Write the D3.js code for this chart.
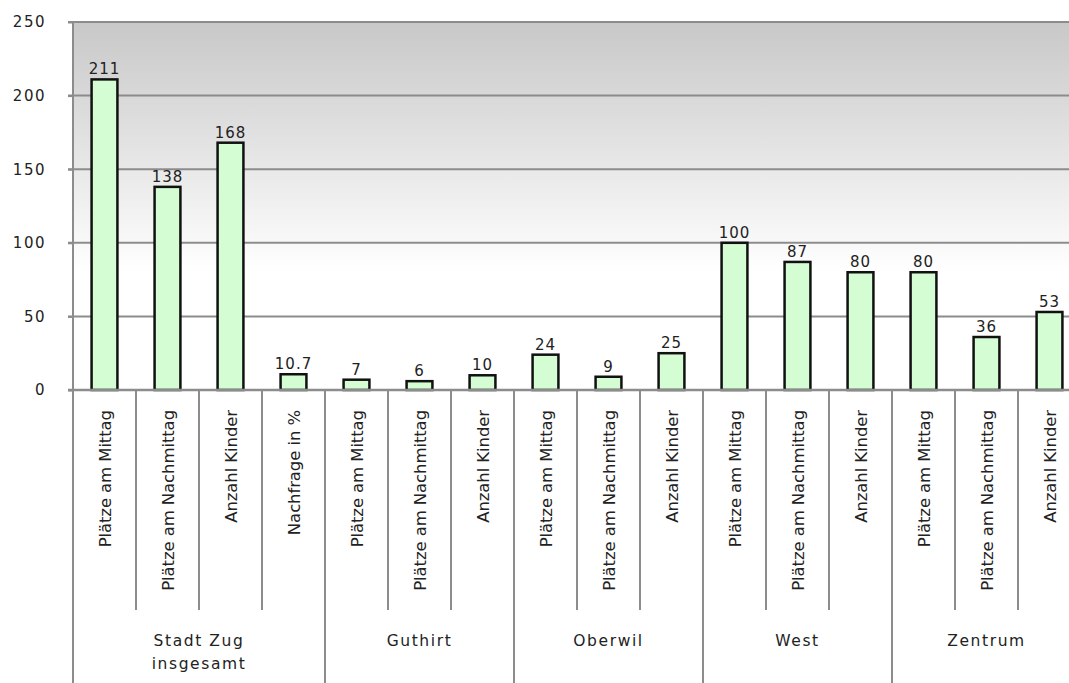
<!DOCTYPE html>
<html>
<head>
<meta charset="utf-8">
<script src="https://cdn.jsdelivr.net/npm/d3@7"></script>
<style>
    body { margin: 0; background: #fff; }
    svg { display: block; font-family: "DejaVu Sans", Verdana, sans-serif; }
</style>
</head>
<body>
<div id="chart"></div>
<script>
// Data
const groups = ['Stadt Zug\ninsgesamt', 'Guthirt', 'Oberwil', 'West', 'Zentrum'];
const groupSizes = [4, 3, 3, 3, 3];
const categories = [
    'Plätze am Mittag', 'Plätze am Nachmittag', 'Anzahl Kinder', 'Nachfrage in %',
    'Plätze am Mittag', 'Plätze am Nachmittag', 'Anzahl Kinder',
    'Plätze am Mittag', 'Plätze am Nachmittag', 'Anzahl Kinder',
    'Plätze am Mittag', 'Plätze am Nachmittag', 'Anzahl Kinder',
    'Plätze am Mittag', 'Plätze am Nachmittag', 'Anzahl Kinder'
];
const values = [211, 138, 168, 10.7, 7, 6, 10, 24, 9, 25, 100, 87, 80, 80, 36, 53];
const yTicks = [0, 50, 100, 150, 200, 250];

const width = 1069, height = 683;
const plotLeft = 73, plotTop = 22, plotBottom = 390;
const step = 63;

const svg = d3.select('#chart').append('svg')
    .attr('width', width)
    .attr('height', height);

const idx = d3.range(values.length);
const x = d3.scaleBand()
    .domain(idx)
    .range([plotLeft, plotLeft + step * values.length])
    .paddingInner(0.59)
    .paddingOuter(0.295);

const y = d3.scaleLinear().domain([0, 250]).range([plotBottom, plotTop]);

// background gradient
const grad = svg.append('defs').append('linearGradient')
    .attr('id', 'bg').attr('x1', 0).attr('y1', 0).attr('x2', 0).attr('y2', 1);
grad.append('stop').attr('offset', '0%').attr('stop-color', '#c8c8c8');
grad.append('stop').attr('offset', '68%').attr('stop-color', '#ffffff');
grad.append('stop').attr('offset', '100%').attr('stop-color', '#ffffff');

svg.append('rect')
    .attr('x', plotLeft).attr('y', plotTop)
    .attr('width', width - plotLeft).attr('height', plotBottom - plotTop)
    .attr('fill', 'url(#bg)');

// grid lines
svg.append('g')
    .selectAll('line')
    .data(yTicks.filter(d => d > 0))
    .join('line')
    .attr('x1', plotLeft - 5).attr('x2', width)
    .attr('y1', d => y(d)).attr('y2', d => y(d))
    .attr('stroke', '#8c8c8c')
    .attr('stroke-width', 2);

// y axis
const yAxis = svg.append('g')
    .attr('transform', `translate(${plotLeft},0)`)
    .call(d3.axisLeft(y).tickValues(yTicks).tickSize(5).tickPadding(22));
yAxis.select('.domain').remove();
yAxis.selectAll('line').attr('stroke', '#8c8c8c').attr('stroke-width', 2);
yAxis.selectAll('text')
    .attr('font-size', 15)
    .attr('letter-spacing', 1.5)
    .attr('fill', '#222')
    .attr('font-family', '"DejaVu Sans", sans-serif');

// bars
svg.append('g')
    .selectAll('rect')
    .data(values)
    .join('rect')
    .attr('x', (d, i) => x(i))
    .attr('y', d => y(d))
    .attr('width', x.bandwidth())
    .attr('height', d => y(0) - y(d))
    .attr('fill', '#d4fdd4')
    .attr('stroke', '#111')
    .attr('stroke-width', 2.5);

// value labels
svg.append('g')
    .selectAll('text')
    .data(values)
    .join('text')
    .attr('x', (d, i) => x(i) + x.bandwidth() / 2)
    .attr('y', d => y(d) - 5)
    .attr('text-anchor', 'middle')
    .attr('font-size', 15)
    .attr('letter-spacing', 1)
    .attr('fill', '#222')
    .text(d => d);

// base line and left axis line
svg.append('line')
    .attr('x1', plotLeft - 5).attr('x2', width)
    .attr('y1', plotBottom).attr('y2', plotBottom)
    .attr('stroke', '#8c8c8c').attr('stroke-width', 2.5);
svg.append('line')
    .attr('x1', plotLeft).attr('x2', plotLeft)
    .attr('y1', plotTop).attr('y2', height)
    .attr('stroke', '#8c8c8c').attr('stroke-width', 2);

// category separators and labels
const groupStarts = groupSizes.reduce((acc, n, i) => {
    acc.push(i === 0 ? 0 : acc[i - 1] + groupSizes[i - 1]);
    return acc;
}, []);

svg.append('g')
    .selectAll('line')
    .data(d3.range(1, values.length + 1))
    .join('line')
    .attr('x1', i => plotLeft + i * step).attr('x2', i => plotLeft + i * step)
    .attr('y1', plotBottom)
    .attr('y2', i => groupStarts.includes(i) || i === values.length ? height : 610)
    .attr('stroke', '#8c8c8c').attr('stroke-width', 2);

svg.append('g')
    .selectAll('text')
    .data(categories)
    .join('text')
    .attr('transform', (d, i) => `translate(${x(i) + x.bandwidth() / 2 + 6},${plotBottom + 20}) rotate(-90)`)
    .attr('text-anchor', 'end')
    .attr('font-size', 16.5)
    .attr('letter-spacing', -0.1)
    .attr('fill', '#222')
    .text(d => d);

// group labels
svg.append('g')
    .selectAll('text')
    .data(groups)
    .join('text')
    .attr('x', (d, i) => plotLeft + (groupStarts[i] + groupSizes[i] / 2) * step)
    .attr('y', 646)
    .attr('text-anchor', 'middle')
    .attr('font-size', 15.5)
    .attr('letter-spacing', 1.6)
    .attr('fill', '#222')
    .each(function (d) {
        const lines = d.split('\n');
        d3.select(this).selectAll('tspan')
            .data(lines)
            .join('tspan')
            .attr('x', d3.select(this).attr('x'))
            .attr('dy', (l, j) => j === 0 ? 0 : 23)
            .text(l => l);
    });
</script>
</body>
</html>
